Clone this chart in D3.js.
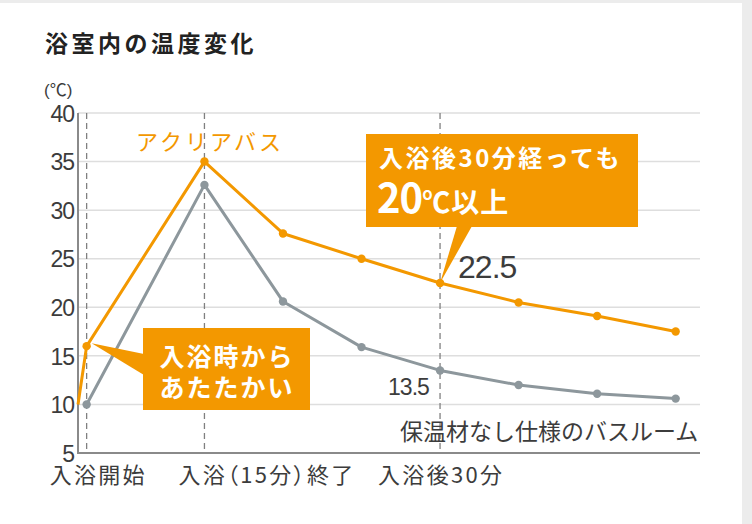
<!DOCTYPE html>
<html>
<head>
<meta charset="utf-8">
<script src="https://cdn.jsdelivr.net/npm/d3@7"></script>
<style>
  body { margin: 0; background: #ececec; }
  svg { display: block; }
</style>
</head>
<body>
<svg id="chart"></svg>
<script>
// readings (minutes after bath start, degrees C)
var times = [0, 15, 25, 35, 45, 55, 65, 75];
var acuriaLead = [-1.1, 10];   // orange line comes in from the axis
var acuriaTemps = [16, 35, 27.6, 25, 22.5, 20.5, 19.1, 17.5];
var plainTemps = [10, 32.6, 20.6, 15.9, 13.5, 12.0, 11.1, 10.6];
var yTicks = [5, 10, 15, 20, 25, 30, 35, 40];
var markTimes = [0, 15, 45];
var markLabels = ['入浴開始', '入浴（15分）終了', '入浴後30分'];

var W = 752, H = 524;
var orange = '#f39800', grey = '#8d979c', ink = '#3c3c3c';
var jp = '"Noto Sans CJK JP", sans-serif';
var num = '"Liberation Sans", "Noto Sans CJK JP", sans-serif';

var svg = d3.select('#chart').attr('width', W).attr('height', H);

// page frame
svg.append('rect').attr('width', W).attr('height', H).attr('fill', '#ececec');
svg.append('rect').attr('x', 0).attr('y', 3).attr('width', 742).attr('height', H - 3).attr('fill', '#fff');

var x = d3.scaleLinear().domain([-1.1, 78.1]).range([78, 700]);
var y = d3.scaleLinear().domain([5, 40]).range([453, 113]);

// title
svg.append('text').attr('x', 45).attr('y', 52)
  .style('font-family', jp).style('font-size', '23px').style('font-weight', 'bold')
  .style('letter-spacing', '3.5px').attr('fill', '#222')
  .text('浴室内の温度変化');

svg.append('text').attr('x', 44).attr('y', 96)
  .style('font-family', num).style('font-size', '17px').attr('fill', ink)
  .text('(℃)');

// grid
svg.append('g').selectAll('line').data(yTicks.slice(1)).enter().append('line')
  .attr('x1', x.range()[0]).attr('x2', x.range()[1])
  .attr('y1', function(d) { return y(d); }).attr('y2', function(d) { return y(d); })
  .attr('stroke', '#dedede').attr('stroke-width', 1.5);

// y axis labels
var yAxis = svg.append('g').attr('transform', 'translate(' + (x.range()[0] - 4) + ',0)')
  .call(d3.axisLeft(y).tickValues(yTicks).tickSize(0).tickPadding(0));
yAxis.select('.domain').remove();
yAxis.selectAll('text')
  .style('font-family', num).style('font-size', '23px').style('letter-spacing', '-1px')
  .attr('fill', ink).attr('dy', '0.36em');

// dashed markers
svg.append('g').selectAll('line').data(markTimes).enter().append('line')
  .attr('x1', function(d) { return x(d); }).attr('x2', function(d) { return x(d); })
  .attr('y1', y(40)).attr('y2', y(5))
  .attr('stroke', '#808080').attr('stroke-width', 1.3).attr('stroke-dasharray', '6,4');

// axis lines
svg.append('line').attr('x1', x.range()[0]).attr('x2', x.range()[0])
  .attr('y1', y(40)).attr('y2', y(5) + 1).attr('stroke', '#8a8a8a').attr('stroke-width', 2);
svg.append('line').attr('x1', x.range()[0]).attr('x2', x.range()[1])
  .attr('y1', y(5)).attr('y2', y(5)).attr('stroke', '#8a8a8a').attr('stroke-width', 2);

// x labels (left-shifted like the original)
var labelShift = [-37, -26, -62];
svg.append('g').selectAll('text').data(markLabels).enter().append('text')
  .attr('x', function(d, i) { return x(markTimes[i]) + labelShift[i]; })
  .attr('y', 483)
  .style('font-family', jp).style('font-size', '22px').style('letter-spacing', '2.3px')
  .style('font-feature-settings', function(d, i) { return i === 1 ? '"palt"' : 'normal'; })
  .attr('fill', ink)
  .text(function(d) { return d; });

var line = d3.line().x(function(d) { return x(d[0]); }).y(function(d) { return y(d[1]); });

var plainPts = times.map(function(t, i) { return [t, plainTemps[i]]; });
var acuriaPts = times.map(function(t, i) { return [t, acuriaTemps[i]]; });

svg.append('path').datum(plainPts).attr('d', line)
  .attr('fill', 'none').attr('stroke', grey).attr('stroke-width', 3).attr('stroke-linejoin', 'round');
svg.append('g').selectAll('circle').data(plainPts).enter().append('circle')
  .attr('cx', function(d) { return x(d[0]); }).attr('cy', function(d) { return y(d[1]); })
  .attr('r', 4.2).attr('fill', grey);

svg.append('path').datum([acuriaLead].concat(acuriaPts)).attr('d', line)
  .attr('fill', 'none').attr('stroke', orange).attr('stroke-width', 3).attr('stroke-linejoin', 'round');
svg.append('g').selectAll('circle').data(acuriaPts).enter().append('circle')
  .attr('cx', function(d) { return x(d[0]); }).attr('cy', function(d) { return y(d[1]); })
  .attr('r', 4.2).attr('fill', orange);

// series labels
svg.append('text').attr('x', 136).attr('y', 150)
  .style('font-family', jp).style('font-size', '22px').style('letter-spacing', '3px')
  .attr('fill', orange).text('アクリアバス');

svg.append('text').attr('x', 400).attr('y', 440)
  .style('font-family', jp).style('font-size', '23px').attr('fill', ink)
  .text('保温材なし仕様のバスルーム');

svg.append('text').attr('x', x(45) + 18).attr('y', y(22.5) - 5)
  .style('font-family', num).style('font-size', '32px').style('letter-spacing', '-1px')
  .attr('fill', ink).text(d3.format('.1f')(acuriaTemps[4]));

svg.append('text').attr('x', x(45) - 52).attr('y', y(13.5) + 25)
  .style('font-family', num).style('font-size', '23px').style('letter-spacing', '-1px')
  .attr('fill', ink).text(d3.format('.1f')(plainTemps[4]));

// callout 1: warm from the start
var c1 = svg.append('g');
var p1 = [x(0) + 5, y(acuriaTemps[0]) - 3];
c1.append('polygon')
  .attr('points', [p1, [144, 354], [144, 375]].map(function(p) { return p.join(','); }).join(' '))
  .attr('fill', orange);
c1.append('rect').attr('x', 143).attr('y', 328).attr('width', 167).attr('height', 82).attr('fill', orange);
c1.selectAll('text').data(['入浴時から', 'あたたかい']).enter().append('text')
  .attr('x', 227).attr('y', function(d, i) { return 366 + i * 31; })
  .attr('text-anchor', 'middle')
  .style('font-family', jp).style('font-size', '25px').style('font-weight', 'bold')
  .style('letter-spacing', '2px').attr('fill', '#fff')
  .text(function(d) { return d; });

// callout 2: still above 20 after 30 min
var c2 = svg.append('g');
var p2 = [x(45), y(acuriaTemps[4])];
c2.append('polygon')
  .attr('points', [p2, [457, 226], [472, 226]].map(function(p) { return p.join(','); }).join(' '))
  .attr('fill', orange);
c2.append('rect').attr('x', 366).attr('y', 134).attr('width', 272).attr('height', 93).attr('fill', orange);
c2.append('text').attr('x', 379).attr('y', 167)
  .style('font-family', jp).style('font-size', '24px').style('font-weight', 'bold')
  .style('letter-spacing', '2.5px').attr('fill', '#fff')
  .text('入浴後30分経っても');
var l2 = c2.append('text').attr('x', 377).attr('y', 213)
  .style('font-family', jp).style('font-weight', 'bold').attr('fill', '#fff');
l2.append('tspan').style('font-size', '40px').style('letter-spacing', '-1px').text('20');
l2.append('tspan').style('font-size', '28px').style('letter-spacing', '1px').text('℃以上');
</script>
</body>
</html>
